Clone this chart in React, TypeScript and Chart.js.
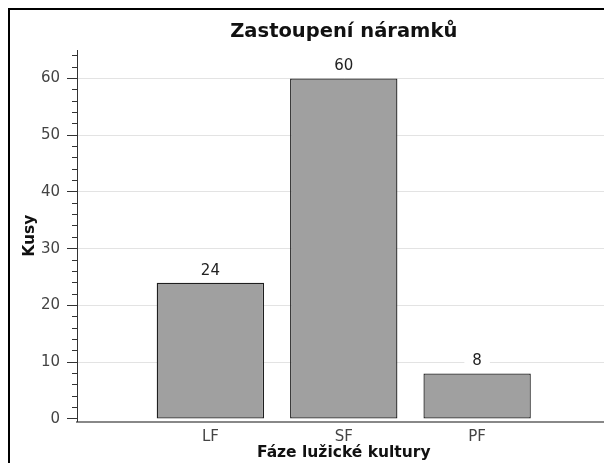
import React, { useEffect, useRef } from 'react';
import { Chart, registerables } from 'chart.js';

Chart.register(...registerables);

const categories = ['LF', 'SF', 'PF'];
const counts = [24, 60, 8];
const chartTitle = 'Zastoupení náramků';
const xTitle = 'Fáze lužické kultury';
const yTitle = 'Kusy';
const yMajorStep = 10;
const yMinorStep = 2;
const yMax = 65;

const FONT = "'DejaVu Sans', sans-serif";

const yTickValues: number[] = [];
for (let v = 0; v < yMax; v += yMinorStep) yTickValues.push(v);

const valueLabels = {
  id: 'valueLabels',
  afterDatasetsDraw(chart: any) {
    const ctx = chart.ctx;
    const meta = chart.getDatasetMeta(0);
    const data = chart.data.datasets[0].data;
    ctx.save();
    ctx.font = `15px ${FONT}`;
    ctx.textAlign = 'center';
    ctx.textBaseline = 'middle';
    meta.data.forEach((el: any, i: number) => {
      const v = data[i];
      if (v == null) return;
      const text = String(v);
      const w = ctx.measureText(text).width;
      const x = el.x;
      const y = el.y - 12;
      ctx.fillStyle = '#ffffff';
      ctx.fillRect(x - w / 2 - 8, y - 8, w + 16, 16);
      ctx.fillStyle = '#222222';
      ctx.fillText(text, x, y);
    });
    ctx.restore();
  },
};

export default function App() {
  const ref = useRef<HTMLCanvasElement | null>(null);

  useEffect(() => {
    document.documentElement.style.overflow = 'hidden';
    const canvas = ref.current;
    if (!canvas) return;
    const chart = new Chart(canvas, {
      type: 'bar',
      data: {
        labels: ['', ...categories, ''],
        datasets: [
          {
            data: [null, ...counts, null],
            backgroundColor: '#a0a0a0',
            borderColor: '#1e1e1e',
            borderWidth: 1.3,
            borderSkipped: false,
            categoryPercentage: 1,
            barPercentage: 0.805,
          },
        ],
      },
      options: {
        responsive: false,
        animation: false,
        layout: { padding: { left: 0, right: 1.5, top: 0, bottom: 0 } },
        plugins: {
          legend: { display: false },
          tooltip: { enabled: false },
          title: {
            display: true,
            text: chartTitle,
            fullSize: false,
            color: '#111111',
            font: { family: FONT, size: 19.5, weight: 'bold', lineHeight: 1.2 },
            padding: { top: 10, bottom: 6.6 },
          },
        },
        scales: {
          x: {
            offset: false,
            afterFit: (scale: any) => {
              scale.height = 41.5;
              scale.paddingLeft = 0;
              scale.paddingRight = 0;
            },
            grid: { display: true, drawOnChartArea: false, drawTicks: false },
            border: { display: true, color: '#888888', width: 2 },
            ticks: {
              padding: 8,
              color: '#444444',
              autoSkip: false,
              maxRotation: 0,
              font: { family: FONT, size: 15, lineHeight: 1 },
            },
            title: {
              display: true,
              text: xTitle,
              color: '#111111',
              font: { family: FONT, size: 15.5, weight: 'bold', lineHeight: 1 },
              padding: { top: 0.75, bottom: 2.25 },
            },
          },
          y: {
            min: -0.45,
            max: yMax,
            afterFit: (scale: any) => {
              scale.width = 67;
            },
            afterBuildTicks: (scale: any) => {
              scale.ticks = yTickValues.map((v) => ({ value: v }));
            },
            ticks: {
              stepSize: yMinorStep,
              autoSkip: false,
              padding: 7,
              color: '#444444',
              font: { family: FONT, size: 15, lineHeight: 1.2 },
              callback: (v: any) => (Number(v) % yMajorStep === 0 ? String(v) : ''),
            },
            grid: {
              lineWidth: 1,
              tickLength: 10,
              tickColor: '#333333',
              color: (c: any) =>
                c.tick && c.tick.value > 0 && c.tick.value % yMajorStep === 0
                  ? '#e3e3e3'
                  : 'rgba(0,0,0,0)',
              tickBorderDash: (c: any) =>
                c.tick && c.tick.value % yMajorStep === 0 ? [] : [0, 5, 5],
            },
            border: { display: true, color: '#333333', width: 1 },
            title: {
              display: true,
              text: yTitle,
              color: '#111111',
              font: { family: FONT, size: 15.5, weight: 'bold', lineHeight: 1 },
              padding: { top: 12.25, bottom: 3.15 },
            },
          },
        },
      },
      plugins: [valueLabels],
    } as any);
    return () => chart.destroy();
  }, []);

  return (
    <div
      style={{
        borderLeft: '2px solid #000',
        borderTop: '2px solid #000',
        width: 602,
        height: 453,
        background: '#fff',
      }}
    >
      <canvas ref={ref} width={602} height={453} style={{ display: 'block' }} />
    </div>
  );
}
